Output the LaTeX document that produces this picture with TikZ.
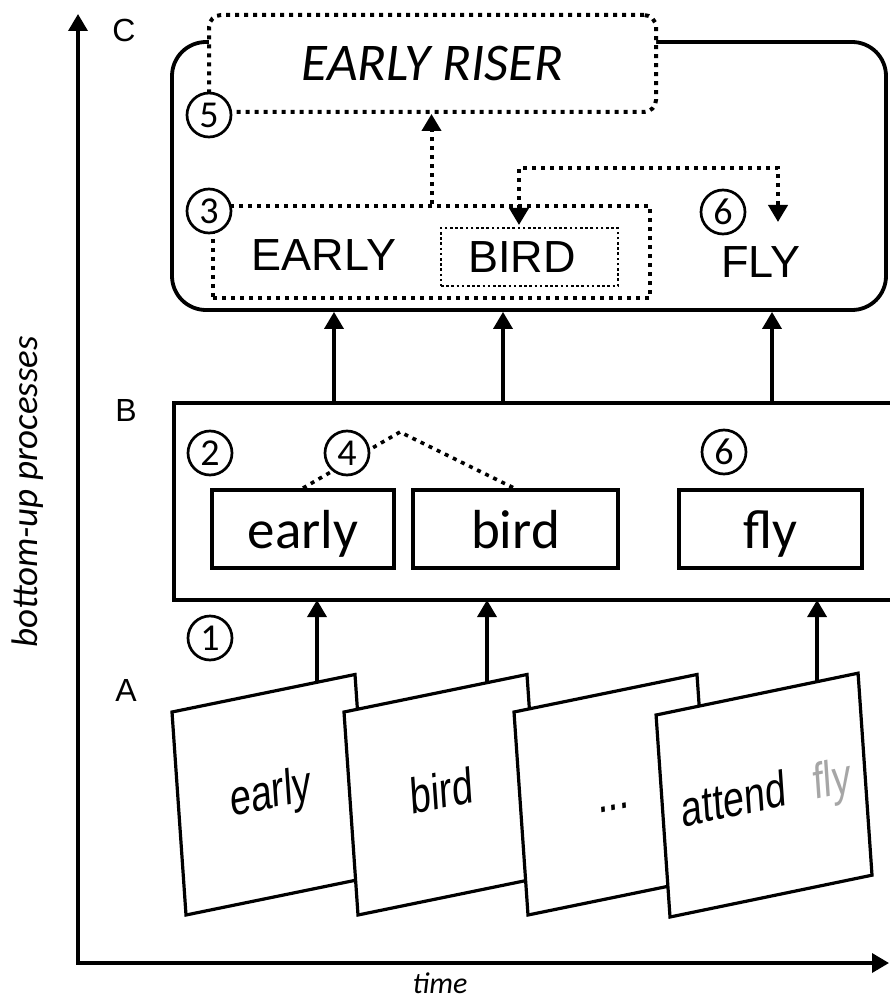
\documentclass[tikz,border=0pt]{standalone}
\usepackage{fontspec}
\setmainfont{Carlito}
\newfontfamily\arialf{Liberation Sans}
\usetikzlibrary{arrows.meta,calc}
\tikzset{
  solidbox/.style={draw, line width=3.8pt},
  wordbox/.style={draw, line width=3.8pt, minimum height=78pt, fill=white, text height=38pt, text depth=0pt, font=\fontsize{55}{55}\selectfont},
  circnum/.style={circle, draw, line width=2.7pt, minimum size=44pt, inner sep=0pt, fill=white, font=\fontsize{38}{38}\selectfont},
  bigdots/.style={line width=4pt, dash pattern=on 4pt off 5pt},
  smalldots/.style={line width=2.6pt, dash pattern=on 2.6pt off 2.6pt},
  tipA/.tip={Triangle[length=17pt,width=19pt]},
  uparrow/.style={line width=3.5pt, -tipA},
  dotarrow/.style={bigdots, -tipA},
  axisline/.style={line width=3.5pt, line join=miter, tipA-tipA},
  cardframe/.style={draw, line width=3.2pt, fill=white},
  cardtext/.style={font=\arialf\fontsize{50}{50}\selectfont, xscale=0.75, transform shape, anchor=base, inner sep=0pt},
  capword/.style={font=\arialf\fontsize{45}{45}\selectfont, inner sep=0pt},
  levellabel/.style={font=\arialf\fontsize{32}{32}\selectfont, inner sep=0pt},
}
\begin{document}
\begin{tikzpicture}[x=1pt,y=1pt]
\useasboundingbox (0,0) rectangle (890,-1000);
\clip (0,0) rectangle (890,-1000);

% ---------- axes ----------
\coordinate (origin) at (78,-963);
\coordinate (ytip) at (78,-14);
\coordinate (xtip) at (889,-963);
\draw[axisline] (ytip) -- (origin) -- (xtip);
\node[rotate=90, font=\itshape\fontsize{37}{37}\selectfont, inner sep=0pt] (ylab) at (28,-492) {bottom-up processes};
\node[font=\itshape\fontsize{30}{30}\selectfont, inner sep=0pt] (xlab) at (440,-983) {time};

% ---------- level labels ----------
\node[levellabel] (labC) at (124,-30) {C};
\node[levellabel] (labB) at (126,-410) {B};
\node[levellabel] (labA) at (126,-690) {A};

% ---------- level C ----------
\node[solidbox, rounded corners=34pt, minimum width=714pt, minimum height=268pt, inner sep=0pt] (Cbox) at (529,-176) {};
\node[draw, bigdots, fill=white, rounded corners=12pt, minimum width=447pt, minimum height=97pt, inner sep=0pt,
      font=\itshape\fontsize{53}{53}\selectfont] (riser) at (432.5,-63.5) {EARLY RISER};
\node[circnum] (c5) at (209,-115) {5};

\node[draw, bigdots, minimum width=437pt, minimum height=92pt, inner sep=0pt] (grp3) at (431.5,-252) {};
\node[circnum] (c3) at (209,-211) {3};
\node[capword] (earlyC) at (324,-255) {EARLY};
\node[draw, smalldots, minimum width=177pt, minimum height=58pt, inner sep=0pt] (birdbox) at (529.5,-257) {};
\node[capword] (birdC) at (522,-257) {BIRD};
\node[circnum] (c6a) at (723,-212) {6};
\node[capword] (flyC) at (761,-262) {FLY};

\draw[dotarrow] (grp3.north) -- (grp3.north |- riser.south);
\coordinate (bt) at (519,-225);
\coordinate (ft) at (778,-222);
\draw[bigdots, tipA-tipA] (bt) -- ++(0,57) -| (ft);

% ---------- level B ----------
\coordinate (Btr) at (895,-403);
\coordinate (Btl) at (174,-403);
\coordinate (Bbl) at (174,-600);
\coordinate (Bbr) at (895,-600);
\draw[solidbox] (Btr) -- (Btl) -- (Bbl) -- (Bbr);

\node[wordbox, minimum width=182pt] (wb1) at (303,-529) {early};
\node[wordbox, minimum width=205pt] (wb2) at (515.5,-529) {bird};
\node[wordbox, minimum width=183pt] (wb3) at (770.5,-529) {fly};

\coordinate (apex) at (400,-432);
\draw[bigdots, line width=3.6pt] (wb1.north) -- (apex) -- (wb2.north -| 514,0);
\node[circnum] (c2) at (210,-453) {2};
\node[circnum] (c4) at (347,-453) {4};
\node[circnum] (c6b) at (724,-452) {6};

% arrows B -> C
\coordinate (u1) at (334,-403);
\coordinate (u2) at (503,-403);
\coordinate (u3) at (772,-403);
\draw[uparrow] (u1) -- (u1 |- Cbox.south);
\draw[uparrow] (u2) -- (u2 |- Cbox.south);
\draw[uparrow] (u3) -- (u3 |- Cbox.south);

% ---------- level A ----------
\node[circnum] (c1) at (210,-638) {1};

\begin{scope}[shift={(186,-915)}, cm={1,0.205,-0.069,1,(0,0)}]
  \draw[cardframe] (0,0) -- (183,0) -- (183,203) -- (0,203) -- cycle;
  \node[cardtext] (t1) at (92,88) {early};
  \coordinate (k1) at (145,203);
\end{scope}
\begin{scope}[shift={(358,-915)}, cm={1,0.205,-0.069,1,(0,0)}]
  \draw[cardframe] (0,0) -- (183,0) -- (183,203) -- (0,203) -- cycle;
  \node[cardtext] (t2) at (91,88) {bird};
  \coordinate (k2) at (143,203);
\end{scope}
\begin{scope}[shift={(528,-915)}, cm={1,0.205,-0.069,1,(0,0)}]
  \draw[cardframe] (0,0) -- (183,0) -- (183,203) -- (0,203) -- cycle;
  \node[cardtext] (t3) at (92,86) {...};
\end{scope}
\begin{scope}[shift={(670,-917)}, cm={1,0.207,-0.069,1,(0,0)}]
  \draw[cardframe] (0,0) -- (202,0) -- (202,202) -- (0,202) -- cycle;
  \node[cardtext] (t4) at (71,86) {attend};
  \node[cardtext, text=black!35] (t5) at (169,86) {fly};
  \coordinate (k4) at (161,202);
\end{scope}

% arrows A -> B
\draw[uparrow] (k1) -- (k1 |- Bbl);
\draw[uparrow] (k2) -- (k2 |- Bbl);
\draw[uparrow] (k4) -- (k4 |- Bbl);
\end{tikzpicture}
\end{document}
